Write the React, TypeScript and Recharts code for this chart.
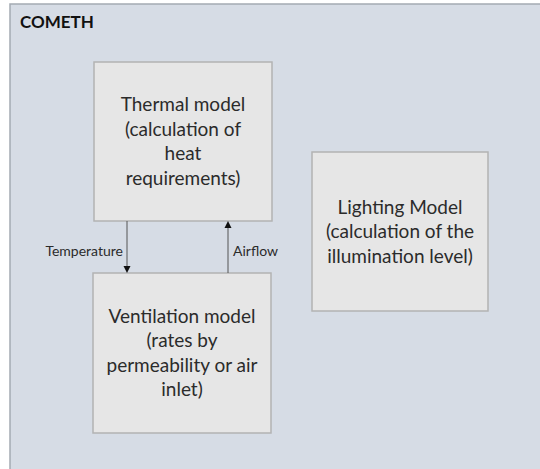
import { ComposedChart, XAxis, YAxis, ReferenceArea, ReferenceLine } from 'recharts';

const FONT = 'Lato, "Open Sans", sans-serif';

// diagram units: 0..540 across, 0..469 down (y axis reversed)
const frameTitle = 'COMETH';
const frameX = [10, 544];
const frameY = [4, 473];

const modelNames = ['thermal', 'ventilation', 'lighting'];
const modelX1 = [94, 93, 312];
const modelX2 = [272, 271, 488];
const modelY1 = [62, 273, 152];
const modelY2 = [221, 433, 311];
const modelLines = [
  ['Thermal model', '(calculation of', 'heat', 'requirements)'],
  ['Ventilation model', '(rates by', 'permeability or air', 'inlet)'],
  ['Lighting Model', '(calculation of the', 'illumination level)'],
];

const flowLabels = ['Temperature', 'Airflow'];
const flowX = [127, 228];
const flowFrom = [221, 273];
const flowTo = [273, 221];

function BoxText({ viewBox, lines }: any) {
  const { x, y, width, height } = viewBox;
  const cx = x + width / 2;
  const lh = 24.5;
  const first = y + height / 2 - ((lines.length - 1) / 2) * lh + 6.5;
  return (
    <text textAnchor="middle" fontFamily={FONT} fontSize={19} fill="#2b2b2b">
      {lines.map((l: string, i: number) => (
        <tspan key={i} x={cx} y={first + i * lh}>{l}</tspan>
      ))}
    </text>
  );
}

function FrameTitle({ viewBox }: any) {
  return (
    <text x={viewBox.x + 10} y={viewBox.y + 24} fontFamily={FONT} fontSize={17} fontWeight="bold" fill="#111">
      {frameTitle}
    </text>
  );
}

function flowArrow(label: string, down: boolean) {
  return (p: any) => {
    const { x1, y1, x2, y2 } = p;
    const tip = y2;
    const dir = down ? 1 : -1;
    const head = `${x2 - 3.5},${tip - dir * 7} ${x2 + 3.5},${tip - dir * 7} ${x2},${tip}`;
    const ly = (y1 + y2) / 2 + 9;
    return (
      <g>
        <line x1={x1} y1={y1} x2={x2} y2={tip - dir * 6} stroke="#555" strokeWidth={1} />
        <polygon points={head} fill="#111" />
        <text
          x={down ? x1 - 4 : x1 + 5}
          y={ly}
          textAnchor={down ? 'end' : 'start'}
          fontFamily={FONT}
          fontSize={14}
          fill="#2b2b2b"
        >
          {label}
        </text>
      </g>
    );
  };
}

export default function App() {
  return (
    <div style={{ position: 'absolute', left: 0, top: 0, background: '#fff' }}>
      <ComposedChart width={540} height={469} data={[]} margin={{ top: 0, right: 0, bottom: 0, left: 0 }}>
        <XAxis type="number" dataKey="x" domain={[0, 540]} allowDataOverflow hide />
        <YAxis type="number" dataKey="y" domain={[0, 469]} reversed allowDataOverflow hide />
        <ReferenceArea
          x1={frameX[0]}
          x2={frameX[1]}
          y1={frameY[0]}
          y2={frameY[1]}
          ifOverflow="hidden"
          fill="#d6dce5"
          fillOpacity={1}
          stroke="#a4aab3"
          strokeWidth={1.5}
          label={(p: any) => <FrameTitle {...p} />}
        />
        {modelNames.map((name, i) => (
          <ReferenceArea
            key={name}
            x1={modelX1[i]}
            x2={modelX2[i]}
            y1={modelY1[i]}
            y2={modelY2[i]}
            fill="#e6e6e6"
            fillOpacity={1}
            stroke="#b3b3b3"
            strokeWidth={1.5}
            label={(p: any) => <BoxText {...p} lines={modelLines[i]} />}
          />
        ))}
        {flowLabels.map((label, i) => (
          <ReferenceLine
            key={label}
            segment={[
              { x: flowX[i], y: flowFrom[i] },
              { x: flowX[i], y: flowTo[i] },
            ]}
            shape={flowArrow(label, flowTo[i] > flowFrom[i])}
          />
        ))}
      </ComposedChart>
    </div>
  );
}
